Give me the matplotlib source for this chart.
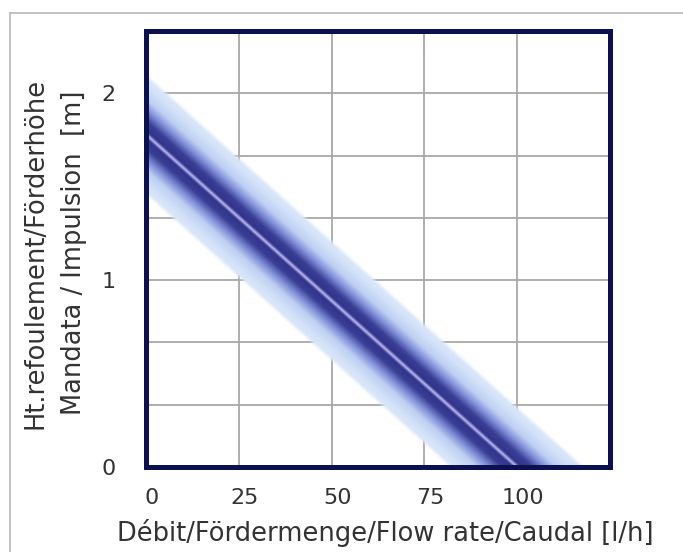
import numpy as np
import matplotlib
matplotlib.use("Agg")
import matplotlib.pyplot as plt
from matplotlib.colors import LinearSegmentedColormap
from matplotlib.lines import Line2D
from matplotlib.transforms import ScaledTranslation

# ---- data ----
flow_points = [0, 100]          # l/h
head_points = [1.78, 0.0]       # m
band_half_width = 0.33          # m, tolerance band around the curve
x_ticks = [0, 25, 50, 75, 100]
x_tick_labels = ["0", "25", "50", "75", "100"]
y_ticks = [0, 1, 2]
y_tick_labels = ["0", "1", "2"]
x_limits = [0, 125]
y_limits = [0, 7 / 3]
x_label = "Débit/Fördermenge/Flow rate/Caudal [l/h]"
y_label = "Ht.refoulement/Förderhöhe\nMandata / Impulsion  [m]"

fig = plt.figure(figsize=(6.83, 5.52), dpi=100)
fig.patch.set_facecolor("white")
ax = fig.add_axes([146 / 683, 1 - 467 / 552, 464 / 683, 436 / 552])

# gradient band
slope = (head_points[1] - head_points[0]) / (flow_points[1] - flow_points[0])
nx, ny = 1200, 1000
xs = np.linspace(x_limits[0], x_limits[1], nx)
ys = np.linspace(y_limits[0], y_limits[1], ny)
X, Y = np.meshgrid(xs, ys)
line_at_x = head_points[0] + slope * (X - flow_points[0])
t = np.abs(Y - line_at_x) / band_half_width

cmap = LinearSegmentedColormap.from_list("band", [
    (0.00, "#c2bbea"),
    (0.025, "#7a7ac6"),
    (0.06, "#30348a"),
    (0.22, "#3a3f95"),
    (0.40, "#7f8ed8"),
    (0.58, "#bdcff2"),
    (0.80, "#d3e2f8"),
    (1.00, "#dfeafb"),
])
rgba = cmap(np.clip(t, 0, 1))
alpha = np.clip((1.0 - t) / 0.08, 0, 1)
rgba[..., 3] = alpha
ax.imshow(rgba, extent=[x_limits[0], x_limits[1], y_limits[0], y_limits[1]],
          origin="lower", aspect="auto", interpolation="bilinear", zorder=2)

ax.set_xlim(x_limits)
ax.set_ylim(y_limits)

ax.set_xticks(x_ticks)
ax.set_xticklabels(x_tick_labels)
ax.set_yticks(y_ticks)
ax.set_yticklabels(y_tick_labels)
ax.set_yticks(np.arange(0, 7) / 3, minor=True)
ax.tick_params(axis="both", which="both", length=0, labelsize=16, labelcolor="#333333")
ax.tick_params(axis="x", pad=15)
ax.tick_params(axis="y", pad=22)

ax.grid(True, which="major", color="#a8a8a8", lw=1.3, zorder=1)
ax.grid(True, which="minor", axis="y", color="#a8a8a8", lw=1.3, zorder=1)
ax.set_axisbelow(True)

for s in ax.spines.values():
    s.set_color("#0b1050")
    s.set_linewidth(3.6)
    s.set_zorder(5)

off = ScaledTranslation(6 / 100, 0, fig.dpi_scale_trans)
for lab in ax.get_xticklabels():
    lab.set_transform(lab.get_transform() + off)

fig.text(385 / 683, 1 - 533 / 552, x_label, ha="center", va="center",
         fontsize=18.5, color="#333333")
fig.text(55 / 683, 1 - 253 / 552, y_label, ha="center", va="center",
         rotation=90, fontsize=18.5, color="#333333", linespacing=1.6,
         multialignment="center")

# outer light frame
fig.add_artist(Line2D([10 / 683, 1.0], [1 - 13 / 552, 1 - 13 / 552],
                      transform=fig.transFigure, color="#b8b8b8", lw=1.2))
fig.add_artist(Line2D([10 / 683, 10 / 683], [0.0, 1 - 13 / 552],
                      transform=fig.transFigure, color="#b8b8b8", lw=1.2))

fig.savefig("out.png", dpi=100, facecolor="white")
